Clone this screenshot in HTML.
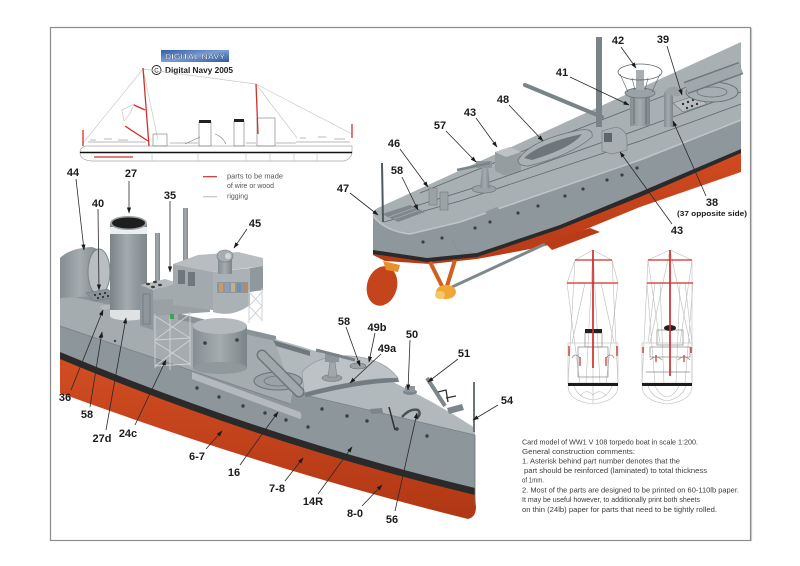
<!DOCTYPE html>
<html><head><meta charset="utf-8"><title>V108 card model</title>
<style>
html,body{margin:0;padding:0;background:#fff;width:800px;height:566px;overflow:hidden}
svg{display:block}
.lb{font-family:"Liberation Sans",Arial,sans-serif;font-weight:bold;font-size:11px;fill:#1b1b1b;text-anchor:middle}
.ld{stroke:#2a2a2a;stroke-width:0.8;fill:none;marker-end:url(#ah)}
.tx{font-family:"Liberation Sans",sans-serif;font-size:7.4px;fill:#3c3c3c}
.lg{font-family:"Liberation Sans",sans-serif;font-size:7px;fill:#555}
</style></head><body>
<svg width="800" height="566" viewBox="0 0 800 566" xmlns="http://www.w3.org/2000/svg">
<defs>
<marker id="ah" markerWidth="6" markerHeight="6" refX="5.5" refY="3" orient="auto" markerUnits="userSpaceOnUse"><path d="M0,0.9 L6,3 L0,5.1 Z" fill="#1b1b1b"/></marker>
<linearGradient id="red1" x1="0" y1="0" x2="0" y2="1"><stop offset="0" stop-color="#d34d23"/><stop offset="1" stop-color="#b03714"/></linearGradient>
<linearGradient id="red2" x1="0" y1="0" x2="0" y2="1"><stop offset="0" stop-color="#d24b21"/><stop offset="1" stop-color="#b53a16"/></linearGradient>
<linearGradient id="fun" x1="0" y1="0" x2="1" y2="0"><stop offset="0" stop-color="#7a8387"/><stop offset="0.45" stop-color="#a3abae"/><stop offset="1" stop-color="#7d868a"/></linearGradient>
<linearGradient id="cyl" x1="0" y1="0" x2="1" y2="0"><stop offset="0" stop-color="#858e92"/><stop offset="0.5" stop-color="#a4acaf"/><stop offset="1" stop-color="#7b8488"/></linearGradient>
<linearGradient id="logo" x1="0" y1="0" x2="1" y2="1"><stop offset="0" stop-color="#2f5da8"/><stop offset="0.5" stop-color="#7b9fd4"/><stop offset="1" stop-color="#2d58a0"/></linearGradient>
</defs>
<rect width="800" height="566" fill="#fff"/>
<rect x="50.5" y="27.5" width="700" height="513" fill="none" stroke="#8c8c8c" stroke-width="1.2"/>
<line x1="751.6" y1="28" x2="751.6" y2="541" stroke="#c4c4c4" stroke-width="1"/>

<!-- SIDE PROFILE -->
<rect x="161" y="50" width="68" height="12" fill="url(#logo)"/>
<text x="195" y="59" text-anchor="middle" font-family="Liberation Sans, sans-serif" font-weight="bold" font-size="7.5" fill="#fff" stroke="#1d3a70" stroke-width="0.3" textLength="60" lengthAdjust="spacingAndGlyphs">DIGITAL NAVY</text>
<circle cx="156.5" cy="70" r="4.5" fill="none" stroke="#222" stroke-width="0.9"/>
<text x="156.5" y="72.6" text-anchor="middle" font-family="Liberation Sans, sans-serif" font-size="6.5" fill="#222">C</text>
<text x="165" y="73" font-family="Liberation Sans, sans-serif" font-weight="bold" font-size="8.5" fill="#1b1b1b" textLength="68" lengthAdjust="spacingAndGlyphs">Digital Navy 2005</text>

<g stroke="#c9c9c9" stroke-width="0.7" fill="none">
<line x1="83" y1="143" x2="143" y2="69"/>
<line x1="143" y1="69" x2="256" y2="84"/>
<line x1="143" y1="69" x2="158" y2="140"/>
<line x1="256" y1="84" x2="352" y2="134"/>
<line x1="256" y1="84" x2="297" y2="138"/>
<path d="M122,110 L134,104 L130,114 L124,121 Z"/>
</g>
<path d="M86,146 L352,146 L352,153 Q351,159 344,161 L92,161 Q80,160 80,153 Q80,147 86,146 Z" fill="#fff" stroke="#a8a8a8" stroke-width="0.7"/>
<line x1="80" y1="152.5" x2="352" y2="152.5" stroke="#111" stroke-width="1.6"/>
<g stroke="#bbb" stroke-width="0.6">
<line x1="152" y1="153" x2="152" y2="161"/><line x1="198" y1="153" x2="198" y2="161"/><line x1="246" y1="153" x2="246" y2="161"/><line x1="270" y1="153" x2="270" y2="161"/><line x1="294" y1="153" x2="294" y2="161"/><line x1="317" y1="153" x2="317" y2="161"/>
</g>
<g fill="none" stroke="#777" stroke-width="0.6">
<rect x="199" y="122" width="12" height="24"/>
<rect x="234" y="121" width="10" height="25"/>
<rect x="153" y="134" width="14" height="12"/>
<rect x="257" y="118" width="18" height="28"/>
<path d="M88,142 L146,142 M90,140 L96,140 M104,139 L112,139 M118,140 L128,140"/>
<path d="M185,144 L200,137 M215,134 Q222,136 226,144"/>
<path d="M296,142 L350,142 M300,138 L306,138 M318,137 L326,137 M334,139 L345,139"/>
<path d="M170,143 L198,143 M246,143 L256,143 M276,143 L296,143"/>
</g>
<rect x="199" y="120" width="12" height="3" fill="#222"/>
<rect x="234" y="119" width="10" height="3" fill="#222"/>
<g stroke="#d0302a" stroke-width="1.3" fill="none">
<line x1="143" y1="68" x2="149" y2="146"/>
<line x1="256" y1="84" x2="258" y2="134"/>
<line x1="125" y1="126" x2="148" y2="141"/>
<line x1="134" y1="105" x2="145" y2="110"/>
<line x1="83" y1="130" x2="83" y2="146"/>
<line x1="352" y1="124" x2="352" y2="138"/>
<line x1="94" y1="157" x2="133" y2="157"/>
</g>
<line x1="203" y1="176.7" x2="217" y2="176.7" stroke="#d0302a" stroke-width="1.2"/>
<text class="lg" x="227" y="178.5" textLength="56" lengthAdjust="spacingAndGlyphs">parts to be made</text>
<text class="lg" x="227" y="188" textLength="47" lengthAdjust="spacingAndGlyphs">of wire or wood</text>
<line x1="203" y1="196.7" x2="217" y2="196.7" stroke="#c4c4c4" stroke-width="1.2"/>
<text class="lg" x="227" y="198.5" textLength="21" lengthAdjust="spacingAndGlyphs">rigging</text>

<!-- TOP RIGHT SHIP -->
<path d="M373,250 L427,258 L477,253 L560,225 L640,192 L741,149 L741,172 L640,207 L567,237 L545,246 L520,251 L477,259 L430,264 L385,261 L373,255 Z" fill="url(#red2)"/>
<path d="M545,243 L590,228 L600,232 L552,250 Z" fill="#b93b17"/>
<path d="M373,216 Q385,231 410,234 L460,222 L640,160 L741,120 L741,149 L640,193 L560,226 L477,254 L427,259 L373,251 Z" fill="#8e979b"/>
<path d="M373,250 L427,258 L477,253 L560,225 L640,192 L741,149 L741,153 L640,197 L560,229 L477,257 L427,262 L373,254 Z" fill="#2a2a2a"/>
<path d="M380,207 L741,42 L741,120 L640,160 L460,222 L410,234 Q385,231 373,216 Q373,209 380,207 Z" fill="#a8b0b3"/>
<path d="M373,216 Q385,231 410,234 L460,222 L640,160 L741,120" fill="none" stroke="#c0c6c8" stroke-width="1.5"/>
<g fill="none" stroke="#5d666a" stroke-width="0.8">
<polyline points="384,222 460,201 640,141 741,104"/>
<polyline points="390,214 470,189 640,129 741,92"/>
<polyline points="420,193 560,136 741,66"/>
</g>
<g fill="#3a3f42">
<circle cx="423" cy="242" r="1.6"/><circle cx="442" cy="238" r="1.6"/><circle cx="475" cy="228" r="1.6"/><circle cx="490" cy="222" r="1.6"/><circle cx="518" cy="213" r="1.6"/><circle cx="538" cy="206" r="1.6"/><circle cx="565" cy="196" r="1.6"/><circle cx="583" cy="189" r="1.6"/><circle cx="607" cy="180" r="1.6"/><circle cx="622" cy="175" r="1.6"/><circle cx="637" cy="168" r="1.6"/>
</g>
<ellipse cx="382" cy="286" rx="15" ry="20" fill="#c4441c" transform="rotate(15 382 286)"/>
<path d="M383,261 L400,265 L398,272 L386,270 Z" fill="#e8902a"/>
<line x1="430" y1="262" x2="442" y2="286" stroke="#d0601f" stroke-width="4"/>
<line x1="455" y1="260" x2="447" y2="286" stroke="#d0601f" stroke-width="4"/>
<line x1="452" y1="287" x2="545" y2="244" stroke="#7e888c" stroke-width="3"/>
<path d="M453,240 Q456,256 472,252" fill="none" stroke="#8a9397" stroke-width="2"/>
<ellipse cx="446" cy="292" rx="10" ry="7" fill="#f0a735"/>
<ellipse cx="440" cy="295" rx="5" ry="4" fill="#f7c668"/>
<path d="M382,214 L410,205 L425,212 L398,222 Z" fill="#7f888c"/>
<path d="M389,217 L414,208 M394,219 L419,210" stroke="#a4acaf" stroke-width="0.7"/>
<line x1="382" y1="163" x2="383" y2="222" stroke="#4f585c" stroke-width="2"/>
<rect x="429" y="188" width="8" height="17" fill="#9ba3a7" stroke="#6a7377" stroke-width="0.5"/>
<rect x="440" y="192" width="8" height="18" fill="#9ba3a7" stroke="#6a7377" stroke-width="0.5"/>
<path d="M485,212 L497,207 L501,211 L489,216 Z" fill="#8e979b"/>
<ellipse cx="484" cy="189" rx="12" ry="4" fill="#9aa2a6" stroke="#6a7377" stroke-width="0.6"/>
<path d="M480,188 L482,166 L488,166 L490,188 Z" fill="url(#cyl)"/>
<rect x="476" y="161" width="16" height="7" fill="#8f989c"/>
<line x1="457" y1="170" x2="490" y2="163" stroke="#7b8488" stroke-width="2.5"/>
<path d="M495,152 L510,147 L521,152 L521,170 L506,176 L495,171 Z" fill="#959da1"/>
<path d="M495,152 L510,147 L521,152 L506,157 Z" fill="#bcc2c5"/>
<path d="M518,160 Q530,140 580,130 Q594,128 592,137 Q570,156 528,166 Q518,166 518,160 Z" fill="#a9b1b4" stroke="#6a7377" stroke-width="0.8"/>
<path d="M524,158 Q540,143 582,134 Q572,148 532,160 Z" fill="#6d767a"/>
<line x1="525" y1="85" x2="602" y2="117" stroke="#7a8387" stroke-width="4" stroke-linecap="round"/>
<rect x="596" y="37" width="6" height="90" fill="#7a8387"/>
<path d="M602,131 L616,127 Q627,130 627,140 L627,150 L612,154 L602,151 Z" fill="#a7afb2" stroke="#6f787c" stroke-width="0.6"/>
<rect x="604" y="133" width="8" height="9" fill="#5d666a"/>
<rect x="630" y="96" width="20" height="30" fill="url(#cyl)"/>
<path d="M634,98 L634,124 M646,98 L646,124" stroke="#5e676b" stroke-width="0.8"/>
<ellipse cx="640" cy="93" rx="15" ry="5" fill="#9aa2a6" stroke="#6a7377" stroke-width="0.8"/>
<rect x="636" y="70" width="8" height="20" fill="#a6aeb1"/>
<ellipse cx="640" cy="72" rx="22" ry="8" fill="none" stroke="#5e676b" stroke-width="0.8"/>
<path d="M620,74 L628,92 M660,74 L652,92 M632,78 L635,90 M648,78 L645,90" stroke="#5e676b" stroke-width="0.6"/>
<rect x="664" y="92" width="9" height="35" fill="url(#cyl)"/>
<path d="M664,93 Q668,85 678,87 L680,96 L673,96 Z" fill="#9aa2a6"/>
<path d="M673,103 L697,95 L707,104 L683,112 Z" fill="#b7bdc0" stroke="#6a7377" stroke-width="0.6"/>
<g fill="#333"><circle cx="683" cy="104" r="1.2"/><circle cx="688" cy="102" r="1.2"/><circle cx="693" cy="100" r="1.2"/><circle cx="687" cy="108" r="1.2"/><circle cx="692" cy="106" r="1.2"/><circle cx="697" cy="104" r="1.2"/></g>
<ellipse cx="712" cy="92" rx="26" ry="10" fill="#a6aeb1" stroke="#6a7377" stroke-width="1"/>
<ellipse cx="712" cy="92" rx="15" ry="5" fill="none" stroke="#6a7377" stroke-width="0.8"/>
<line x1="686" y1="88" x2="741" y2="68" stroke="#6e777b" stroke-width="13"/>
<line x1="686" y1="88" x2="741" y2="68" stroke="#a0a8ab" stroke-width="10"/>

<!-- FRONT VIEWS -->
<g fill="none" stroke="#bdbdbd" stroke-width="0.6">
<line x1="593" y1="250" x2="575" y2="260"/><line x1="593" y1="250" x2="612" y2="260"/>
<line x1="575" y1="260" x2="568" y2="384"/><line x1="612" y1="260" x2="618" y2="384"/>
<line x1="575" y1="260" x2="567" y2="283"/><line x1="612" y1="260" x2="618" y2="283"/>
<line x1="567" y1="283" x2="580" y2="384"/><line x1="618" y1="283" x2="606" y2="384"/>
<line x1="585" y1="283" x2="572" y2="343"/><line x1="601" y1="283" x2="614" y2="343"/>
<line x1="593" y1="250" x2="586" y2="384"/><line x1="593" y1="250" x2="600" y2="384"/>
<rect x="568" y="343" width="50" height="40"/>
<line x1="593" y1="343" x2="593" y2="404"/>
<path d="M568,386 Q568,401 593,404 Q618,401 618,386"/>
<path d="M574,386 Q578,398 593,400 Q608,398 612,386"/>
<path d="M580,396 Q586,388 593,395 Q600,388 606,396"/>
<line x1="670" y1="250" x2="648" y2="260"/><line x1="670" y1="250" x2="692" y2="260"/>
<line x1="648" y1="260" x2="642" y2="384"/><line x1="692" y1="260" x2="692" y2="384"/>
<line x1="647" y1="283" x2="655" y2="384"/><line x1="693" y1="283" x2="685" y2="384"/>
<line x1="648" y1="260" x2="660" y2="343"/><line x1="692" y1="260" x2="680" y2="343"/>
<line x1="655" y1="283" x2="648" y2="343"/><line x1="685" y1="283" x2="692" y2="343"/>
<line x1="660" y1="283" x2="664" y2="384"/><line x1="680" y1="283" x2="676" y2="384"/>
<line x1="670" y1="250" x2="650" y2="343"/><line x1="670" y1="250" x2="690" y2="343"/>
<rect x="642" y="343" width="50" height="40"/>
<path d="M642,386 Q642,401 667,404 Q692,401 692,386"/>
<path d="M648,386 Q652,398 667,401 Q682,398 686,386"/>
<path d="M655,386 Q660,396 667,397 Q674,396 679,386"/>
</g>
<g fill="none" stroke="#888" stroke-width="0.7">
<rect x="585" y="333" width="17" height="14"/>
<rect x="578" y="347" width="30" height="30"/>
<path d="M572,358 Q575,352 580,358 M606,358 Q611,352 614,358"/>
<rect x="657" y="330" width="26" height="15"/>
<rect x="650" y="347" width="40" height="10"/>
<path d="M646,372 L690,372 M650,360 Q656,354 662,360 M678,360 Q684,354 690,360"/>
</g>
<rect x="585" y="329" width="17" height="4" fill="#222"/>
<ellipse cx="670" cy="328" rx="6" ry="3" fill="#222"/>
<rect x="568" y="383" width="50" height="3" fill="#1c1c1c"/>
<rect x="642" y="383" width="50" height="3" fill="#1c1c1c"/>
<g stroke="#cf2f2a" stroke-width="1.7"><line x1="593" y1="250" x2="593" y2="368"/><line x1="670" y1="250" x2="670" y2="376"/></g>
<g stroke="#cf2f2a" stroke-width="1.2">
<line x1="575" y1="260" x2="612" y2="260"/><line x1="567" y1="283" x2="618" y2="283"/>
<line x1="648" y1="260" x2="692" y2="260"/><line x1="647" y1="283" x2="693" y2="283"/>
<line x1="569" y1="346" x2="569" y2="356"/><line x1="617" y1="346" x2="617" y2="356"/>
<line x1="580" y1="357" x2="580" y2="366"/><line x1="606" y1="357" x2="606" y2="366"/>
<line x1="643" y1="347" x2="643" y2="353"/><line x1="691" y1="347" x2="691" y2="353"/>
<line x1="656" y1="355" x2="656" y2="362"/><line x1="684" y1="355" x2="684" y2="362"/>
</g>

<!-- BIG SHIP -->
<path d="M60,288 L276,338 L292,391 L290,404 L60,326 Z" fill="#a4acaf"/>
<path d="M60,286 L276,336 L276,341 L60,294 Z" fill="#8a9397"/>
<path d="M274,339 Q380,366 475,428 L475,435 L292,392 Z" fill="#b2b9bc"/>
<path d="M60,358 Q266,444 475,494 L476,507 Q476,517 468,519 Q270,470 60,393 Z" fill="url(#red1)"/>
<path d="M60,326 L290,404 L292,392 L475,435 L475,491 Q266,441 60,355 Z" fill="#8d969a"/>
<path d="M60,352 Q266,438 475,488 L475,495 Q266,445 60,359 Z" fill="#2a2a2a"/>
<path d="M60,326 L290,404" stroke="#7d868a" stroke-width="1" fill="none"/>
<path d="M292,392 L475,435" stroke="#79828a" stroke-width="0.8" fill="none"/>
<path d="M192,372 L300,412 Q303,416 300,419 L192,379 Z" fill="#b3b9bc"/>
<path d="M273,340 L310,351 L310,356 L276,346 Z" fill="#6f787c"/>
<line x1="475" y1="435" x2="475" y2="505" stroke="#6b7478" stroke-width="0.8"/>
<g fill="#3a3f42">
<circle cx="197" cy="388" r="1.7"/><circle cx="219" cy="397" r="1.7"/><circle cx="243" cy="406" r="1.7"/><circle cx="265" cy="413" r="1.7"/><circle cx="286" cy="420" r="1.7"/><circle cx="308" cy="427" r="1.7"/><circle cx="322" cy="409" r="1.7"/><circle cx="347" cy="416" r="1.7"/><circle cx="367" cy="421" r="1.7"/><circle cx="397" cy="429" r="1.7"/><circle cx="427" cy="436" r="1.7"/><circle cx="100" cy="337" r="1.2"/><circle cx="115" cy="341" r="1.2"/>
</g>
<path d="M302,372 Q318,354 352,356 Q384,359 398,378 Q360,378 304,393 Z" fill="#bcc2c5" stroke="#8a9296" stroke-width="0.6"/>
<path d="M304,393 Q360,378 398,378 L399,382 Q360,383 306,397 Z" fill="#737c80"/>
<ellipse cx="358" cy="366" rx="8" ry="3" fill="#9aa2a5" stroke="#666" stroke-width="0.6"/>
<ellipse cx="332" cy="378" rx="10" ry="3.5" fill="#959ea1" stroke="#6f777b" stroke-width="0.6"/>
<path d="M328,377 L330,362 L335,362 L337,377 Z" fill="#a0a8ab" stroke="#6f777b" stroke-width="0.5"/>
<rect x="325" y="354" width="14" height="8" fill="#8d969a"/>
<line x1="316" y1="350" x2="355" y2="360" stroke="#7a8387" stroke-width="3"/>
<ellipse cx="410" cy="392" rx="7" ry="3" fill="#7d868a"/>
<rect x="405" y="386" width="10" height="6" fill="#8e979b"/>
<path d="M370,409 L382,408 L383,413 L371,414 Z" fill="#7d868a"/>
<line x1="389" y1="407" x2="395" y2="430" stroke="#333" stroke-width="1.5"/>
<path d="M402,417 Q410,408 418,410 Q422,414 416,419" fill="none" stroke="#4a5256" stroke-width="2.5"/>
<line x1="427" y1="378" x2="445" y2="406" stroke="#7d868a" stroke-width="4"/>
<path d="M438,392 L446,390 L448,402 M446,398 L456,396" fill="none" stroke="#2e3336" stroke-width="1.3"/>
<path d="M447,408 L462,404 L464,410 L449,414 Z" fill="#7d868a"/>
<line x1="474" y1="382" x2="474" y2="432" stroke="#6a7377" stroke-width="2"/>
<ellipse cx="278" cy="381" rx="24" ry="9" fill="#9ba3a7" stroke="#6b7478" stroke-width="1"/>
<ellipse cx="278" cy="381" rx="14" ry="5" fill="none" stroke="#6b7478" stroke-width="0.8"/>
<line x1="262" y1="355" x2="299" y2="392" stroke="#6e777b" stroke-width="11" stroke-linecap="round"/>
<line x1="262" y1="355" x2="299" y2="392" stroke="#a0a8ab" stroke-width="8" stroke-linecap="round"/>
<!-- ventilator 44 -->
<path d="M60,258 Q70,248 92,247 L100,250 L100,296 L60,298 Z" fill="url(#cyl)"/>
<ellipse cx="99" cy="272" rx="11" ry="23" fill="#b8bec1" stroke="#7b8488" stroke-width="1"/>
<path d="M86,293 L108,289 L116,297 L94,301 Z" fill="#8a9396" stroke="#6c7579" stroke-width="0.5"/>
<g fill="#2f3437"><circle cx="95" cy="295" r="1.1"/><circle cx="100" cy="294" r="1.1"/><circle cx="105" cy="293" r="1.1"/><circle cx="98" cy="298" r="1.1"/><circle cx="103" cy="297" r="1.1"/><circle cx="108" cy="296" r="1.1"/></g>
<path d="M100,306 L112,304 L114,308 L102,310 Z" fill="#b3b9bc"/>
<!-- funnel -->
<rect x="110" y="224" width="37" height="92" fill="url(#fun)"/>
<rect x="110" y="227" width="37" height="7" fill="#eceeef"/>
<rect x="110" y="310" width="37" height="6" fill="#dfe2e3"/>
<ellipse cx="128.5" cy="316" rx="18.5" ry="4.5" fill="#dfe2e3"/>
<ellipse cx="128.5" cy="223" rx="18.5" ry="7" fill="#9aa2a5"/>
<ellipse cx="128.5" cy="223" rx="16.5" ry="5.5" fill="#1e1e1e"/>
<rect x="155" y="233" width="5" height="68" fill="url(#cyl)"/>
<rect x="183" y="208" width="5" height="58" fill="url(#cyl)"/>
<!-- deckhouse 35 -->
<path d="M140,285 L165,279 L178,283 L153,290 Z" fill="#b5bbbe"/>
<path d="M140,285 L153,290 L153,330 L140,326 Z" fill="#8e979b"/>
<path d="M153,290 L178,283 L178,325 L153,330 Z" fill="#a2aaad"/>
<g fill="#3a3f42"><ellipse cx="148" cy="284" rx="2" ry="1.2"/><ellipse cx="155" cy="282" rx="2" ry="1.2"/><ellipse cx="153" cy="287" rx="2" ry="1.2"/><ellipse cx="160" cy="285" rx="2" ry="1.2"/></g>
<rect x="143" y="294" width="7" height="30" fill="none" stroke="#6c7579" stroke-width="0.7"/>
<path d="M153,300 L210,297 L210,312 L153,316 Z" fill="#99a1a5"/>
<g stroke="#d0d4d6" stroke-width="0.9" fill="none">
<line x1="155" y1="314" x2="155" y2="368"/><line x1="170" y1="316" x2="170" y2="370"/><line x1="190" y1="312" x2="190" y2="366"/>
<line x1="155" y1="340" x2="190" y2="338"/><line x1="155" y1="366" x2="190" y2="364"/>
<line x1="155" y1="316" x2="190" y2="338"/><line x1="190" y1="314" x2="155" y2="340"/>
<line x1="155" y1="342" x2="190" y2="364"/><line x1="190" y1="340" x2="155" y2="366"/>
</g>
<rect x="170" y="314" width="4" height="5" fill="#3fa05a"/>
<!-- bridge -->
<path d="M173,264 L198,255 L238,252 L263,258 L263,266 L213,272 Z" fill="#b7bdc0"/>
<path d="M173,264 L213,272 L213,310 L173,305 Z" fill="#a2aaad"/>
<rect x="178" y="270" width="7" height="14" fill="#6f787c"/><rect x="188" y="272" width="7" height="14" fill="#6f787c"/>
<path d="M213,272 L250,268 L250,305 Q232,318 213,312 Z" fill="#aab2b5"/>
<rect x="217" y="282" width="31" height="11" fill="#8d969a"/>
<g><rect x="219" y="283" width="4" height="9" fill="#c99a6a"/><rect x="225" y="283" width="4" height="9" fill="#8aa0b8"/><rect x="231" y="283" width="4" height="9" fill="#c0b090"/><rect x="237" y="283" width="4" height="9" fill="#6f8fb0"/><rect x="243" y="283" width="4" height="9" fill="#b08a70"/></g>
<path d="M250,268 L263,266 L263,290 L250,292 Z" fill="#8f989c"/>
<g stroke="#c9cdcf" stroke-width="0.9" fill="none">
<line x1="249" y1="290" x2="249" y2="323"/><line x1="262" y1="288" x2="262" y2="321"/>
<line x1="249" y1="292" x2="262" y2="306"/><line x1="262" y1="292" x2="249" y2="306"/>
<line x1="249" y1="306" x2="262" y2="320"/><line x1="262" y1="306" x2="249" y2="320"/>
</g>
<rect x="218" y="258" width="14" height="16" fill="url(#cyl)"/>
<ellipse cx="225" cy="256" rx="8" ry="6" fill="#a6aeb1" stroke="#6f787c" stroke-width="0.6"/>
<circle cx="228" cy="256" r="3" fill="#d2d7d9"/>
<rect x="193" y="326" width="54" height="42" fill="url(#cyl)"/>
<ellipse cx="220" cy="368" rx="27" ry="6" fill="#8f989b"/>
<ellipse cx="220" cy="326" rx="27" ry="8" fill="#b3b9bc"/>
<circle cx="205" cy="343" r="1.8" fill="#3a3f42"/><circle cx="237" cy="340" r="1.8" fill="#3a3f42"/>

<!-- TEXT BLOCK -->
<text class="tx" x="522" y="444.5" textLength="176" lengthAdjust="spacingAndGlyphs">Card model of WW1 V 108 torpedo boat in scale 1:200.</text>
<text class="tx" x="522" y="454" textLength="113" lengthAdjust="spacingAndGlyphs">General construction comments:</text>
<text class="tx" x="522" y="463.5" textLength="158" lengthAdjust="spacingAndGlyphs">1. Asterisk  behind part number denotes that the</text>
<text class="tx" x="524" y="473" textLength="183" lengthAdjust="spacingAndGlyphs">part should be reinforced (laminated) to total thickness</text>
<text class="tx" x="522" y="482.5" textLength="22" lengthAdjust="spacingAndGlyphs">of 1mm.</text>
<text class="tx" x="522" y="492.5" textLength="217" lengthAdjust="spacingAndGlyphs">2. Most of the parts are designed to be printed on 60-110lb paper.</text>
<text class="tx" x="522" y="502" textLength="178" lengthAdjust="spacingAndGlyphs">It may be useful however, to additionally print both sheets</text>
<text class="tx" x="522" y="512" textLength="195" lengthAdjust="spacingAndGlyphs">on thin (24lb) paper for parts that need to be tightly rolled.</text>

<!-- LEADERS -->
<g>
<line class="ld" x1="76" y1="179" x2="84" y2="250"/>
<line class="ld" x1="129" y1="181" x2="129" y2="213"/>
<line class="ld" x1="98" y1="209" x2="99" y2="290"/>
<line class="ld" x1="170" y1="201" x2="170" y2="272"/>
<line class="ld" x1="247" y1="229" x2="234" y2="248"/>
<line class="ld" x1="71" y1="390" x2="103" y2="310"/>
<line class="ld" x1="90" y1="407" x2="102" y2="332"/>
<line class="ld" x1="106" y1="430" x2="126" y2="318"/>
<line class="ld" x1="135" y1="425" x2="166" y2="360"/>
<line class="ld" x1="206" y1="449" x2="222" y2="431"/>
<line class="ld" x1="240" y1="465" x2="278" y2="412"/>
<line class="ld" x1="285" y1="481" x2="303" y2="458"/>
<line class="ld" x1="318" y1="494" x2="352" y2="447"/>
<line class="ld" x1="362" y1="506" x2="382" y2="485"/>
<line class="ld" x1="395" y1="511" x2="417" y2="413"/>
<line class="ld" x1="346" y1="327" x2="360" y2="366"/>
<line class="ld" x1="375" y1="333" x2="369" y2="362"/>
<line class="ld" x1="381" y1="354" x2="350" y2="383"/>
<line class="ld" x1="410" y1="340" x2="408" y2="390"/>
<line class="ld" x1="458" y1="359" x2="428" y2="382"/>
<line class="ld" x1="498" y1="405" x2="473" y2="420"/>
<line class="ld" x1="350" y1="193" x2="378" y2="215"/>
<line class="ld" x1="621" y1="47" x2="636" y2="68"/>
<line class="ld" x1="667" y1="46" x2="682" y2="95"/>
<line class="ld" x1="570" y1="77" x2="629" y2="105"/>
<line class="ld" x1="509" y1="105" x2="543" y2="141"/>
<line class="ld" x1="476" y1="118" x2="497" y2="147"/>
<line class="ld" x1="446" y1="131" x2="476" y2="162"/>
<line class="ld" x1="400" y1="149" x2="428" y2="187"/>
<line class="ld" x1="402" y1="177" x2="418" y2="210"/>
<line class="ld" x1="706" y1="196" x2="673" y2="121"/>
<line class="ld" x1="672" y1="224" x2="620" y2="152"/>
</g>

<!-- LABELS -->
<g class="lb">
<text x="73" y="176">44</text>
<text x="131" y="177">27</text>
<text x="98" y="207">40</text>
<text x="170" y="199">35</text>
<text x="255" y="227">45</text>
<text x="65" y="401">36</text>
<text x="87" y="418">58</text>
<text x="102" y="442">27d</text>
<text x="128" y="437">24c</text>
<text x="197" y="460">6-7</text>
<text x="234" y="476">16</text>
<text x="277" y="492">7-8</text>
<text x="313" y="505">14R</text>
<text x="355" y="517">8-0</text>
<text x="392" y="523">56</text>
<text x="344" y="325">58</text>
<text x="377" y="331">49b</text>
<text x="387" y="352">49a</text>
<text x="412" y="338">50</text>
<text x="464" y="357">51</text>
<text x="507" y="404">54</text>
<text x="343" y="192">47</text>
<text x="618" y="44">42</text>
<text x="663" y="43">39</text>
<text x="562" y="76">41</text>
<text x="503" y="103">48</text>
<text x="470" y="116">43</text>
<text x="440" y="129">57</text>
<text x="394" y="147">46</text>
<text x="397" y="174">58</text>
<text x="712" y="206">38</text>
<text x="677" y="234">43</text>
</g>
<text x="712" y="216" text-anchor="middle" font-family="Liberation Sans, sans-serif" font-weight="bold" font-size="7.5" fill="#1b1b1b" textLength="70" lengthAdjust="spacingAndGlyphs">(37 opposite side)</text>
</svg>
</body></html>
